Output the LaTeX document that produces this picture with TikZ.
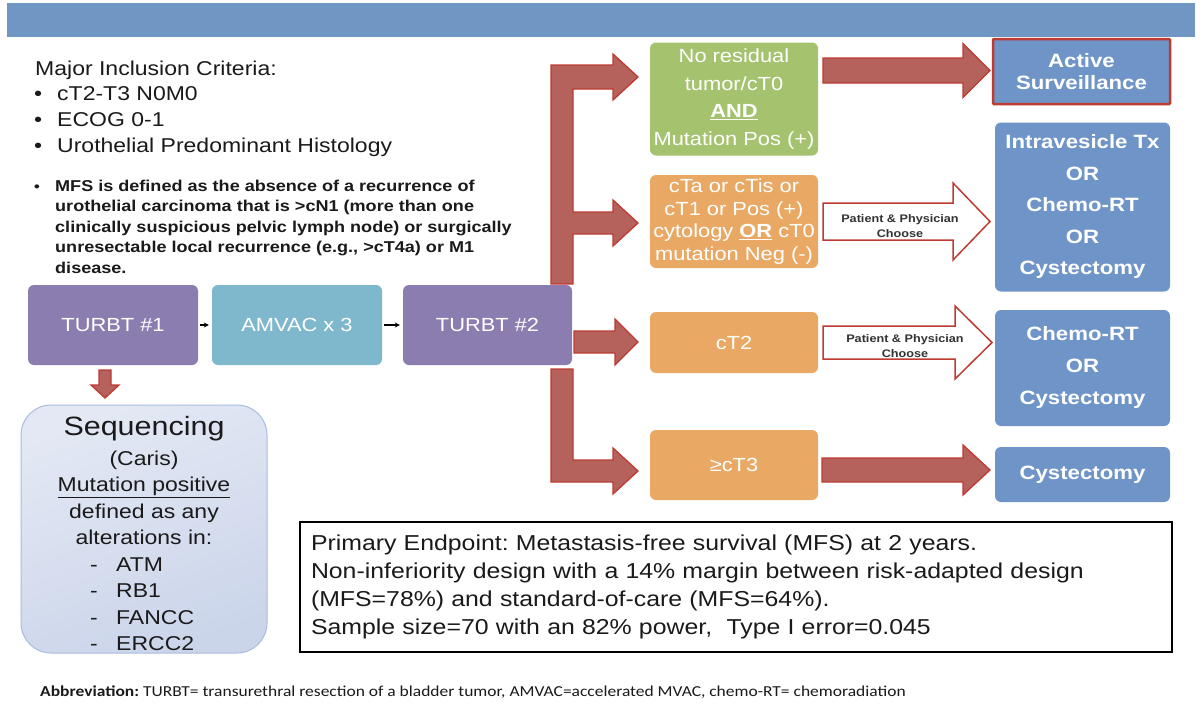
\documentclass[tikz,border=0pt]{standalone}
\usepackage{fontspec}
\setmainfont{Liberation Sans}[FakeStretch=1.15]
\newfontfamily\carl{Carlito}[FakeStretch=1.15]
\usetikzlibrary{calc,arrows.meta}
\definecolor{barblue}{HTML}{7096C4}
\definecolor{boxpurple}{HTML}{8B7DAF}
\definecolor{boxteal}{HTML}{7FB7CC}
\definecolor{boxgreen}{HTML}{A5C36F}
\definecolor{boxorange}{HTML}{E9A965}
\definecolor{boxblue}{HTML}{6F95C8}
\definecolor{arrowfill}{HTML}{B5625C}
\definecolor{arrowline}{HTML}{BE3B32}
\definecolor{seqfill}{HTML}{E3E8F4}
\definecolor{seqfilldark}{HTML}{CBD5EA}
\definecolor{seqline}{HTML}{A9BCE0}
\definecolor{txtdark}{HTML}{1A1A1A}
\newcommand{\hblock}[7]{%
  \draw[#1] ({#2},{#5-#6}) -- ({#3},{#5-#6}) -- ({#3},{#5-#7}) -- ({#4},{#5})
    -- ({#3},{#5+#7}) -- ({#3},{#5+#6}) -- ({#2},{#5+#6}) -- cycle;}
\begin{document}
\frenchspacing
\begin{tikzpicture}[x=1pt,y=-1pt,
  box/.style={rounded corners=6pt, inner sep=0pt, align=center, text=white},
  blk/.style={fill=arrowfill, draw=arrowline, line width=1.3pt, line join=miter},
  hol/.style={fill=white, draw=arrowline, line width=1.5pt, line join=miter},
  lbl/.style={inner sep=0pt, text=txtdark},
  crit/.style={lbl, anchor=base west, font=\fontsize{20}{26}\selectfont},
  seqt/.style={lbl, anchor=base, font=\fontsize{20}{26}\selectfont},
  seql/.style={lbl, anchor=base west, font=\fontsize{20}{26}\selectfont},
  pp/.style={inner sep=0pt, align=center, text=black!80, font=\bfseries\fontsize{11}{15}\selectfont},
  flowtxt/.style={font=\fontsize{19}{24}\selectfont},
  endtxt/.style={font=\bfseries\fontsize{19.3}{24}\selectfont},
]
\useasboundingbox (0,0) rectangle (1200,715);
\fill[white] (0,0) rectangle (1200,715);
\fill[barblue] (7,3) rectangle (1195,37);

% inclusion criteria
\node[crit] (mic) at (35,75) {Major Inclusion Criteria:};
\node[crit] (b1) at (34,100) {•};
\node[crit] (c1) at (57,100) {cT2-T3 N0M0};
\node[crit] (b2) at (34,126) {•};
\node[crit] (c2) at (57,126) {ECOG 0-1};
\node[crit] (b3) at (34,152) {•};
\node[crit] (c3) at (57,152) {Urothelial Predominant Histology};
\node[lbl, anchor=base west, font=\bfseries\fontsize{14}{20.5}\selectfont] (b4) at (34,191.5) {•};
\node[lbl, anchor=north west, align=left, font=\bfseries\fontsize{15.7}{20.5}\selectfont] (mfs) at (55,179.5)
  {MFS is defined as the absence of a recurrence of\\
   urothelial carcinoma that is >cN1 (more than one\\
   clinically suspicious pelvic lymph node) or surgically\\
   unresectable local recurrence (e.g., >cT4a) or M1\\
   disease.};

% main flow boxes
\node[box, flowtxt, fill=boxpurple, minimum width=170, minimum height=80] (t1) at (113,325) {TURBT \#1};
\node[box, flowtxt, fill=boxteal, minimum width=170, minimum height=80] (am) at (297,325) {AMVAC x 3};
\node[box, flowtxt, fill=boxpurple, minimum width=169, minimum height=80] (t2) at (487.5,325) {TURBT \#2};
\draw[-{Stealth[length=5pt,width=5pt]}, line width=1.3pt, shorten <=2pt, shorten >=3pt] (t1) -- (am);
\draw[-{Stealth[length=5pt,width=5pt]}, line width=1.3pt, shorten <=2pt, shorten >=3pt] (am) -- (t2);

% down arrow to sequencing
\draw[blk] (99,370) -- (111,370) -- (111,385) -- (119,385) -- (105,398) -- (91,385) -- (99,385) -- cycle;

% sequencing box
\node[rounded corners=30pt, draw=seqline, line width=1pt, top color=seqfill, bottom color=seqfilldark, shading angle=20,
      minimum width=246, minimum height=248, inner sep=0pt] (seq) at (144,529) {};
\node[lbl, anchor=base, font=\fontsize{26.5}{30}\selectfont] (sq1) at (144,435) {Sequencing};
\node[seqt] (sq2) at (144,465) {(Caris)};
\node[seqt] (sq3) at (144,491.5) {\underline{Mutation positive}};
\node[seqt] (sq4) at (144,518) {defined as any};
\node[seqt] (sq5) at (144,544.5) {alterations in:};
\node[seql] (d1) at (90,571) {-};
\node[seql] (g1) at (116,571) {ATM};
\node[seql] (d2) at (90,597.5) {-};
\node[seql] (g2) at (116,597.5) {RB1};
\node[seql] (d3) at (90,624) {-};
\node[seql] (g3) at (116,624) {FANCC};
\node[seql] (d4) at (90,650.5) {-};
\node[seql] (g4) at (116,650.5) {ERCC2};

% red branching arrows from TURBT #2
\draw[blk] (551,284) -- (551,65) -- (613,65) -- (613,54) -- (638,77) -- (613,100) -- (613,89)
  -- (573,89) -- (573,212) -- (613,212) -- (613,200) -- (638,223) -- (613,246) -- (613,234)
  -- (573,234) -- (573,284) -- cycle;
\hblock{blk}{574}{615}{638}{342}{11}{23}
\draw[blk] (551,369) -- (551,482) -- (613,482) -- (613,494) -- (638,471) -- (613,448) -- (613,460)
  -- (573,460) -- (573,369) -- cycle;

% middle column
\node[box, fill=boxgreen, minimum width=168, minimum height=113, font=\fontsize{19}{27.7}\selectfont] (gr) at (734,99)
  {No residual\\tumor/cT0\\\underline{\textbf{AND}}\\Mutation Pos (+)};
\node[box, fill=boxorange, minimum width=168, minimum height=93, font=\fontsize{19}{22.4}\selectfont] (o1) at (734,221.5)
  {cTa or cTis or\\cT1 or Pos (+)\\cytology \underline{\textbf{OR}} cT0\\mutation Neg (-)};
\node[box, flowtxt, fill=boxorange, minimum width=168, minimum height=61] (o2) at (734,342.5) {cT2};
\node[box, flowtxt, fill=boxorange, minimum width=168, minimum height=70] (o3) at (734,465) {≥cT3};

% right arrows
\hblock{blk}{823}{963}{990}{70.5}{12.5}{27}
\hblock{hol}{823}{953}{990}{221.5}{18.5}{38.5}
\node[pp] (pp1) at (900,226) {Patient \& Physician\\Choose};
\hblock{hol}{823}{955}{992}{342.5}{16.5}{36.5}
\node[pp] (pp2) at (905,346.5) {Patient \& Physician\\Choose};
\hblock{blk}{822}{963}{990}{470}{12}{25}

% right column
\node[box, fill=boxblue, draw=arrowline, line width=2.5pt, rounded corners=1pt, minimum width=177, minimum height=65, font=\bfseries\fontsize{19.3}{22}\selectfont] (as) at (1081.5,71.5)
  {Active\\Surveillance};
\node[box, fill=boxblue, minimum width=175, minimum height=169, font=\bfseries\fontsize{19.3}{31.5}\selectfont] (iv) at (1082.5,207)
  {Intravesicle Tx\\OR\\Chemo-RT\\OR\\Cystectomy};
\node[box, fill=boxblue, minimum width=175, minimum height=116, font=\bfseries\fontsize{19.3}{32}\selectfont] (cr) at (1082.5,368)
  {Chemo-RT\\OR\\Cystectomy};
\node[box, endtxt, fill=boxblue, minimum width=175, minimum height=55] (cy) at (1082.5,474.5)
  {Cystectomy};

% primary endpoint
\node[draw=black, line width=2pt, minimum width=872, minimum height=130, text width=850, inner xsep=11pt, align=left,
      font=\fontsize{21.6}{28}\selectfont, text=txtdark] (pe) at (736,587)
  {Primary Endpoint: Metastasis-free survival (MFS) at 2 years.\\
   Non-inferiority design with a 14\% margin between risk-adapted design\\
   (MFS=78\%) and standard-of-care (MFS=64\%).\\
   Sample size=70 with an 82\% power,\ \ Type I error=0.045};

% abbreviation
\node[lbl, anchor=west, font=\carl\fontsize{15.2}{17}\selectfont] (abbr) at (40,692)
  {\textbf{Abbreviation:} TURBT= transurethral resection of a bladder tumor, AMVAC=accelerated MVAC, chemo-RT= chemoradiation};
\end{tikzpicture}
\end{document}
